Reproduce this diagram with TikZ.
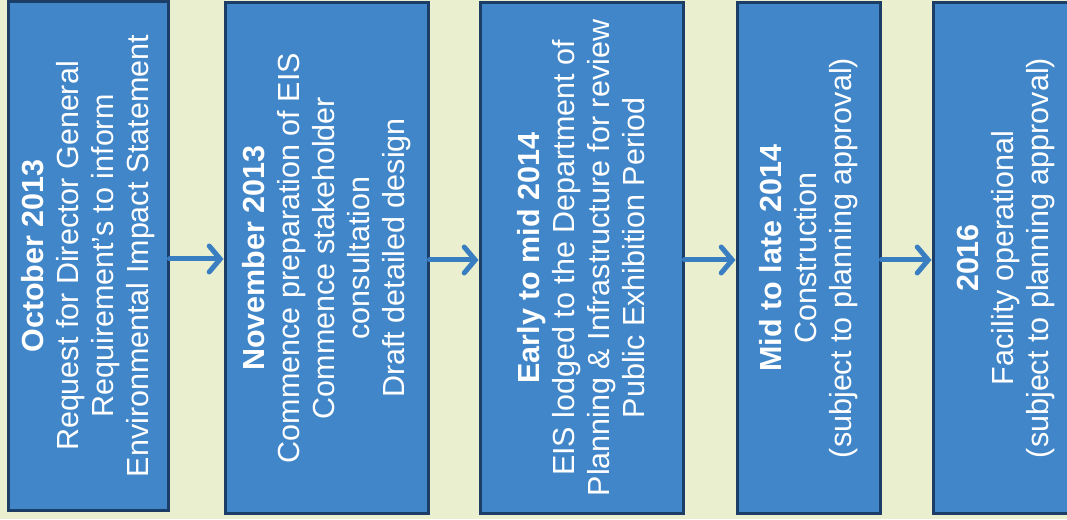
\documentclass[tikz,border=0pt]{standalone}
\usepackage{fontspec}
\setmainfont{Liberation Sans}
\usetikzlibrary{arrows.meta}
\definecolor{bgc}{HTML}{E9EFCF}
\definecolor{boxfill}{HTML}{4086C8}
\definecolor{boxedge}{HTML}{1B3D66}
\definecolor{arrc}{HTML}{3A7EC2}
\tikzset{
  stage/.style={draw=boxedge, line width=3pt, fill=boxfill, rotate=90,
    text=white, align=center, inner sep=0pt,
    font=\fontsize{30.5}{35}\selectfont},
  flow/.style={draw=arrc, line width=5pt, line cap=round,
    -{Straight Barb[length=11pt,width=26pt,line cap=round]}}
}
\begin{document}
\begin{tikzpicture}[x=1pt,y=1pt]
\fill[bgc] (0,0) rectangle (1067,519);
\useasboundingbox (0,0) rectangle (1067,519);
\node[stage, minimum width=508pt, minimum height=160pt] (b1) at (88,263)
  {\textbf{October 2013}\\Request for Director General\\Requirement's to inform\\Environmental Impact Statement};
\node[stage, minimum width=510pt, minimum height=203pt] (b2) at (326.5,261)
  {\textbf{November 2013}\\Commence preparation of EIS\\Commence stakeholder\\consultation\\Draft detailed design};
\node[stage, minimum width=510pt, minimum height=203pt] (b3) at (581.5,261)
  {\textbf{Early to mid 2014}\\EIS lodged to the Department of\\Planning \& Infrastructure for review\\Public Exhibition Period};
\node[stage, minimum width=510pt, minimum height=143pt] (b4) at (808.5,261)
  {\textbf{Mid to late 2014}\\Construction\\(subject to planning approval)};
\node[stage, minimum width=510pt, minimum height=145pt] (b5) at (1005.5,261)
  {\textbf{2016}\\Facility operational\\(subject to planning approval)};
\draw[flow] (b1.south |- 0,260) -- (b2.north |- 0,260);
\draw[flow] (b2.south |- 0,259) -- (b3.north |- 0,259);
\draw[flow] (b3.south |- 0,259) -- (b4.north |- 0,259);
\draw[flow] (b4.south |- 0,259) -- (b5.north |- 0,259);
\end{tikzpicture}
\end{document}
